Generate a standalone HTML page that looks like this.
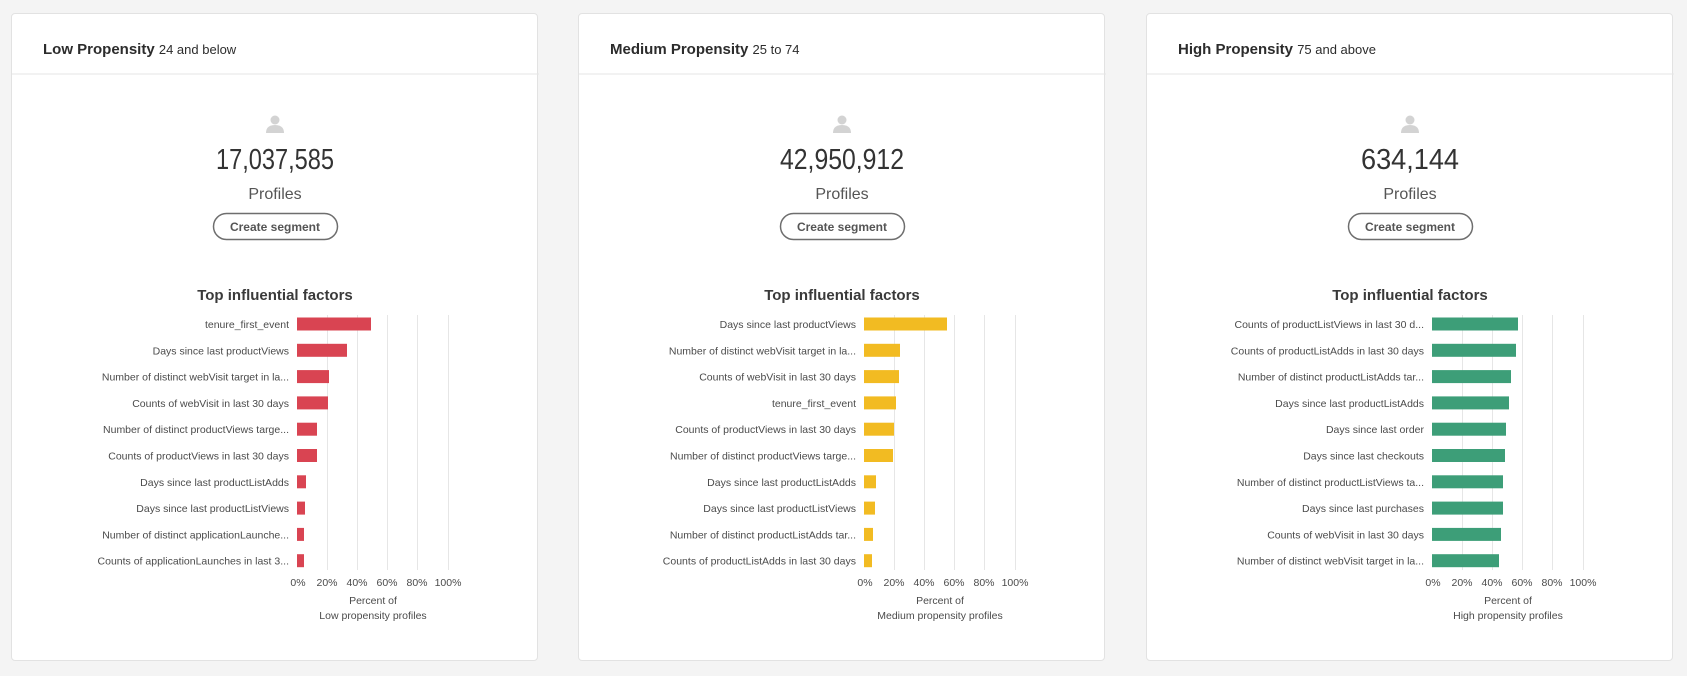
<!DOCTYPE html>
<html><head><meta charset="utf-8"><style>
body{margin:0;width:1687px;height:676px;background:#f4f4f4;position:relative;overflow:hidden;font-family:"Liberation Sans",sans-serif;}
.card{position:absolute;top:13px;width:527px;height:648px;background:#fff;border:1px solid #e2e2e2;border-radius:4px;box-sizing:border-box;}
svg{position:absolute;left:0;top:0;}
text{font-family:"Liberation Sans",sans-serif;fill:#4b4b4b;}
.lb{font-size:10.5px;text-anchor:end;}
.tk{font-size:10.5px;text-anchor:middle;}
.num{font-size:29px;text-anchor:middle;fill:#333;}
</style></head><body>

<div class="card" style="left:11px">
<svg width="527" height="648">
<text x="31" y="40" style="font-size:15px;font-weight:bold;fill:#2c2c2c">Low Propensity <tspan style="font-weight:normal;font-size:13px">24 and below</tspan></text>
<line x1="0" y1="60" x2="527" y2="60" stroke="#e6e6e6"/>
<circle cx="263" cy="106" r="4.5" fill="#d3d3d3"/><path d="M254 119 Q254 111 263 111 Q272 111 272 119 Z" fill="#d3d3d3"/>
<text class="num" x="263" y="155" textLength="118" lengthAdjust="spacingAndGlyphs">17,037,585</text>
<text x="263" y="185" style="font-size:16px;text-anchor:middle;fill:#555">Profiles</text>
<rect x="201.5" y="199.5" width="124" height="26" rx="13" fill="#fff" stroke="#6e6e6e" stroke-width="1.5"/>
<text x="263" y="217" style="font-size:12px;font-weight:bold;text-anchor:middle;fill:#555">Create segment</text>
<text x="263" y="286" style="font-size:15px;font-weight:bold;text-anchor:middle;fill:#3a3a3a">Top influential factors</text>
<g stroke="#e6e6e6"><line x1="315.5" y1="301" x2="315.5" y2="556"/><line x1="345.5" y1="301" x2="345.5" y2="556"/><line x1="375.5" y1="301" x2="375.5" y2="556"/><line x1="405.5" y1="301" x2="405.5" y2="556"/><line x1="436.5" y1="301" x2="436.5" y2="556"/></g>
<g fill="#d94452">
<rect x="285" y="303.5" width="74" height="13"/><rect x="285" y="329.8" width="50" height="13"/><rect x="285" y="356.1" width="32" height="13"/><rect x="285" y="382.4" width="31" height="13"/><rect x="285" y="408.7" width="20" height="13"/><rect x="285" y="435" width="20" height="13"/><rect x="285" y="461.3" width="9" height="13"/><rect x="285" y="487.6" width="8" height="13"/><rect x="285" y="513.9" width="7" height="13"/><rect x="285" y="540.2" width="7" height="13"/>
</g>
<text class="lb" x="277" y="314">tenure_first_event</text>
<text class="lb" x="277" y="340.3">Days since last productViews</text>
<text class="lb" x="277" y="366.6">Number of distinct webVisit target in la...</text>
<text class="lb" x="277" y="392.9">Counts of webVisit in last 30 days</text>
<text class="lb" x="277" y="419.2">Number of distinct productViews targe...</text>
<text class="lb" x="277" y="445.5">Counts of productViews in last 30 days</text>
<text class="lb" x="277" y="471.8">Days since last productListAdds</text>
<text class="lb" x="277" y="498.1">Days since last productListViews</text>
<text class="lb" x="277" y="524.4">Number of distinct applicationLaunche...</text>
<text class="lb" x="277" y="550.7">Counts of applicationLaunches in last 3...</text>
<text class="tk" x="286" y="572">0%</text><text class="tk" x="315" y="572">20%</text><text class="tk" x="345" y="572">40%</text><text class="tk" x="375" y="572">60%</text><text class="tk" x="405" y="572">80%</text><text class="tk" x="436" y="572">100%</text>
<text class="tk" x="361" y="590">Percent of</text><text class="tk" x="361" y="605">Low propensity profiles</text>
</svg></div>

<div class="card" style="left:578px">
<svg width="527" height="648">
<text x="31" y="40" style="font-size:15px;font-weight:bold;fill:#2c2c2c">Medium Propensity <tspan style="font-weight:normal;font-size:13px">25 to 74</tspan></text>
<line x1="0" y1="60" x2="527" y2="60" stroke="#e6e6e6"/>
<circle cx="263" cy="106" r="4.5" fill="#d3d3d3"/><path d="M254 119 Q254 111 263 111 Q272 111 272 119 Z" fill="#d3d3d3"/>
<text class="num" x="263" y="155" textLength="124" lengthAdjust="spacingAndGlyphs">42,950,912</text>
<text x="263" y="185" style="font-size:16px;text-anchor:middle;fill:#555">Profiles</text>
<rect x="201.5" y="199.5" width="124" height="26" rx="13" fill="#fff" stroke="#6e6e6e" stroke-width="1.5"/>
<text x="263" y="217" style="font-size:12px;font-weight:bold;text-anchor:middle;fill:#555">Create segment</text>
<text x="263" y="286" style="font-size:15px;font-weight:bold;text-anchor:middle;fill:#3a3a3a">Top influential factors</text>
<g stroke="#e6e6e6"><line x1="315.5" y1="301" x2="315.5" y2="556"/><line x1="345.5" y1="301" x2="345.5" y2="556"/><line x1="375.5" y1="301" x2="375.5" y2="556"/><line x1="405.5" y1="301" x2="405.5" y2="556"/><line x1="436.5" y1="301" x2="436.5" y2="556"/></g>
<g fill="#f2bb22">
<rect x="285" y="303.5" width="83" height="13"/><rect x="285" y="329.8" width="36" height="13"/><rect x="285" y="356.1" width="35" height="13"/><rect x="285" y="382.4" width="32" height="13"/><rect x="285" y="408.7" width="30" height="13"/><rect x="285" y="435" width="29" height="13"/><rect x="285" y="461.3" width="12" height="13"/><rect x="285" y="487.6" width="11" height="13"/><rect x="285" y="513.9" width="9" height="13"/><rect x="285" y="540.2" width="8" height="13"/>
</g>
<text class="lb" x="277" y="314">Days since last productViews</text>
<text class="lb" x="277" y="340.3">Number of distinct webVisit target in la...</text>
<text class="lb" x="277" y="366.6">Counts of webVisit in last 30 days</text>
<text class="lb" x="277" y="392.9">tenure_first_event</text>
<text class="lb" x="277" y="419.2">Counts of productViews in last 30 days</text>
<text class="lb" x="277" y="445.5">Number of distinct productViews targe...</text>
<text class="lb" x="277" y="471.8">Days since last productListAdds</text>
<text class="lb" x="277" y="498.1">Days since last productListViews</text>
<text class="lb" x="277" y="524.4">Number of distinct productListAdds tar...</text>
<text class="lb" x="277" y="550.7">Counts of productListAdds in last 30 days</text>
<text class="tk" x="286" y="572">0%</text><text class="tk" x="315" y="572">20%</text><text class="tk" x="345" y="572">40%</text><text class="tk" x="375" y="572">60%</text><text class="tk" x="405" y="572">80%</text><text class="tk" x="436" y="572">100%</text>
<text class="tk" x="361" y="590">Percent of</text><text class="tk" x="361" y="605">Medium propensity profiles</text>
</svg></div>

<div class="card" style="left:1146px">
<svg width="527" height="648">
<text x="31" y="40" style="font-size:15px;font-weight:bold;fill:#2c2c2c">High Propensity <tspan style="font-weight:normal;font-size:13px">75 and above</tspan></text>
<line x1="0" y1="60" x2="527" y2="60" stroke="#e6e6e6"/>
<circle cx="263" cy="106" r="4.5" fill="#d3d3d3"/><path d="M254 119 Q254 111 263 111 Q272 111 272 119 Z" fill="#d3d3d3"/>
<text class="num" x="263" y="155" textLength="98" lengthAdjust="spacingAndGlyphs">634,144</text>
<text x="263" y="185" style="font-size:16px;text-anchor:middle;fill:#555">Profiles</text>
<rect x="201.5" y="199.5" width="124" height="26" rx="13" fill="#fff" stroke="#6e6e6e" stroke-width="1.5"/>
<text x="263" y="217" style="font-size:12px;font-weight:bold;text-anchor:middle;fill:#555">Create segment</text>
<text x="263" y="286" style="font-size:15px;font-weight:bold;text-anchor:middle;fill:#3a3a3a">Top influential factors</text>
<g stroke="#e6e6e6"><line x1="315.5" y1="301" x2="315.5" y2="556"/><line x1="345.5" y1="301" x2="345.5" y2="556"/><line x1="375.5" y1="301" x2="375.5" y2="556"/><line x1="405.5" y1="301" x2="405.5" y2="556"/><line x1="436.5" y1="301" x2="436.5" y2="556"/></g>
<g fill="#3d9e78">
<rect x="285" y="303.5" width="86" height="13"/><rect x="285" y="329.8" width="84" height="13"/><rect x="285" y="356.1" width="79" height="13"/><rect x="285" y="382.4" width="77" height="13"/><rect x="285" y="408.7" width="74" height="13"/><rect x="285" y="435" width="73" height="13"/><rect x="285" y="461.3" width="71" height="13"/><rect x="285" y="487.6" width="71" height="13"/><rect x="285" y="513.9" width="69" height="13"/><rect x="285" y="540.2" width="67" height="13"/>
</g>
<text class="lb" x="277" y="314">Counts of productListViews in last 30 d...</text>
<text class="lb" x="277" y="340.3">Counts of productListAdds in last 30 days</text>
<text class="lb" x="277" y="366.6">Number of distinct productListAdds tar...</text>
<text class="lb" x="277" y="392.9">Days since last productListAdds</text>
<text class="lb" x="277" y="419.2">Days since last order</text>
<text class="lb" x="277" y="445.5">Days since last checkouts</text>
<text class="lb" x="277" y="471.8">Number of distinct productListViews ta...</text>
<text class="lb" x="277" y="498.1">Days since last purchases</text>
<text class="lb" x="277" y="524.4">Counts of webVisit in last 30 days</text>
<text class="lb" x="277" y="550.7">Number of distinct webVisit target in la...</text>
<text class="tk" x="286" y="572">0%</text><text class="tk" x="315" y="572">20%</text><text class="tk" x="345" y="572">40%</text><text class="tk" x="375" y="572">60%</text><text class="tk" x="405" y="572">80%</text><text class="tk" x="436" y="572">100%</text>
<text class="tk" x="361" y="590">Percent of</text><text class="tk" x="361" y="605">High propensity profiles</text>
</svg></div>

</body></html>
